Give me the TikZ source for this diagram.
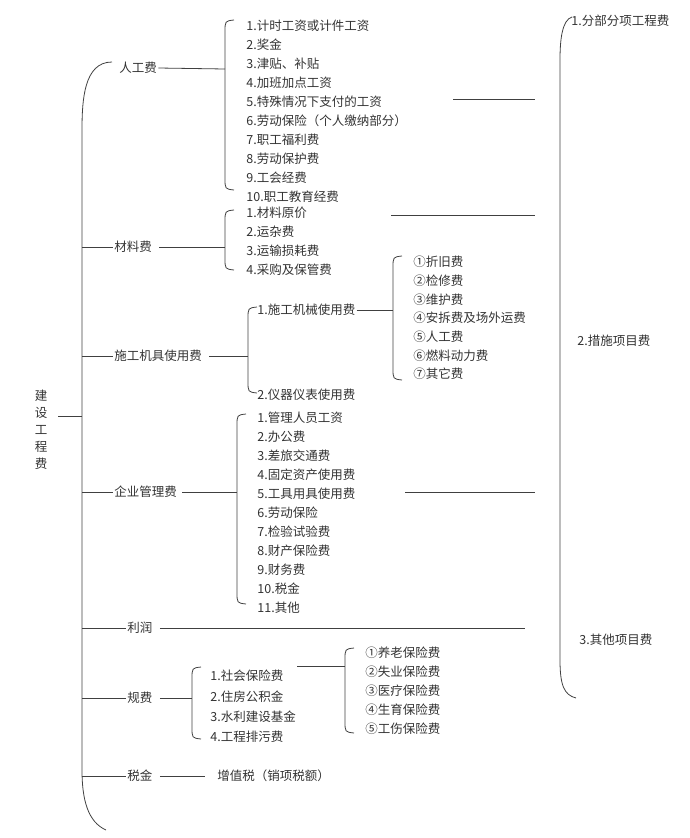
\documentclass[tikz,border=0pt]{standalone}
\usepackage{fontspec}
\setmainfont{Noto Sans CJK SC}
\begin{document}
\begin{tikzpicture}[x=1pt,y=-1pt,line width=0.8pt,color=black!75,
  t/.style={anchor=west,inner sep=1pt,font=\fontsize{12.5}{14}\selectfont,text=black!80},
  br/.style={line width=0.8pt}]
\useasboundingbox (0,0) rectangle (690,838);
\newcommand{\brc}[3]{\draw[br] (#1+9,#2) .. controls (#1,#2+1) .. (#1,#2+12) -- (#1,#3-12) .. controls (#1,#3-1) .. (#1+9,#3);}
% root
\node[anchor=center,inner sep=1pt,font=\fontsize{12.5}{14}\selectfont,text=black!80,align=center] (root) at (41,430) {建\\[3pt]设\\[3pt]工\\[3pt]程\\[3pt]费};
\coordinate (mb) at (82,416);
\draw (58,416) -- (mb);
% main brace
\draw[br] (112,62) .. controls (84,62) and (82,100) .. (82,130) -- (82,770) .. controls (82,800) and (88,822) .. (106,830);
% categories
\node[t] (rg) at (118,68) {人工费};
\node[t] (cl) at (113,247) {材料费};
\node[t] (jj) at (113,356) {施工机具使用费};
\node[t] (qy) at (113,492) {企业管理费};
\node[t] (lr) at (126,628) {利润};
\node[t] (gf) at (126,698) {规费};
\node[t] (sj) at (126,776) {税金};
\foreach \n/\y in {cl/247,jj/356,qy/492,lr/628,gf/698,sj/776}{\draw (82,\y) -- (\n.west);}
% 人工费
\brc{225}{20}{190}
\draw (rg.east) -- (225,69);
\foreach \s [count=\i] in {1.计时工资或计件工资,2.奖金,3.津贴、补贴,4.加班加点工资,5.特殊情况下支付的工资,6.劳动保险（个人缴纳部分）,7.职工福利费,8.劳动保护费,9.工会经费,10.职工教育经费}
  {\node[t] (r\i) at (245,{26+19*(\i-1)}) {\s};}
% 材料费
\brc{225}{210}{270}
\draw (cl.east) ++(6,0) -- (225,247);
\foreach \s [count=\i] in {1.材料原价,2.运杂费,3.运输损耗费,4.采购及保管费}
  {\node[t] (c\i) at (245,{213+19*(\i-1)}) {\s};}
% 施工机具
\brc{248}{307}{393}
\draw (jj.east) ++(6,0) -- (248,356);
\node[t] (j1) at (256,310) {1.施工机械使用费};
\node[t] (j2) at (256,395) {2.仪器仪表使用费};
\brc{393}{256}{380}
\coordinate (bx) at (393,0);
\draw (j1.east) -- (j1.east -| bx);
\foreach \s [count=\i] in {①折旧费,②检修费,③维护费,④安拆费及场外运费,⑤人工费,⑥燃料动力费,⑦其它费}
  {\node[t] (m\i) at (412,{262+18.7*(\i-1)}) {\s};}
% 企业管理费
\brc{237}{414}{604}
\draw (qy.east) ++(4,0) -- (237,492);
\foreach \s [count=\i] in {1.管理人员工资,2.办公费,3.差旅交通费,4.固定资产使用费,5.工具用具使用费,6.劳动保险,7.检验试验费,8.财产保险费,9.财务费,10.税金,11.其他}
  {\node[t] (q\i) at (256,{418+19*(\i-1)}) {\s};}
% 规费
\brc{192}{667}{739}
\draw (gf.east) ++(6,0) -- (192,698);
\foreach \s [count=\i] in {1.社会保险费,2.住房公积金,3.水利建设基金,4.工程排污费}
  {\node[t] (g\i) at (209,{676+20.3*(\i-1)}) {\s};}
\brc{345}{648}{733}
\draw (297,666) -- (345,666);
\foreach \s [count=\i] in {①养老保险费,②失业保险费,③医疗保险费,④生育保险费,⑤工伤保险费}
  {\node[t] (s\i) at (364,{653+19*(\i-1)}) {\s};}
% 税金
\node[t] (zz) at (216,776) {增值税（销项税额）};
\draw (sj.east) ++(6,0) -- (205,776);
% right lines
\draw (453,99) -- (535,99);
\draw (391,215) -- (535,215);
\draw (405,492) -- (535,492);
\draw (lr.east) ++(6,0) -- (525,628);
% right brace
\draw[br] (572,17) .. controls (562,20) and (560,40) .. (560,60) -- (560,660) .. controls (560,685) and (564,695) .. (576,698);
\node[t] (p1) at (570,21) {1.分部分项工程费};
\node[t] (p2) at (576,341) {2.措施项目费};
\node[t] (p3) at (578,640) {3.其他项目费};
\end{tikzpicture}
\end{document}
